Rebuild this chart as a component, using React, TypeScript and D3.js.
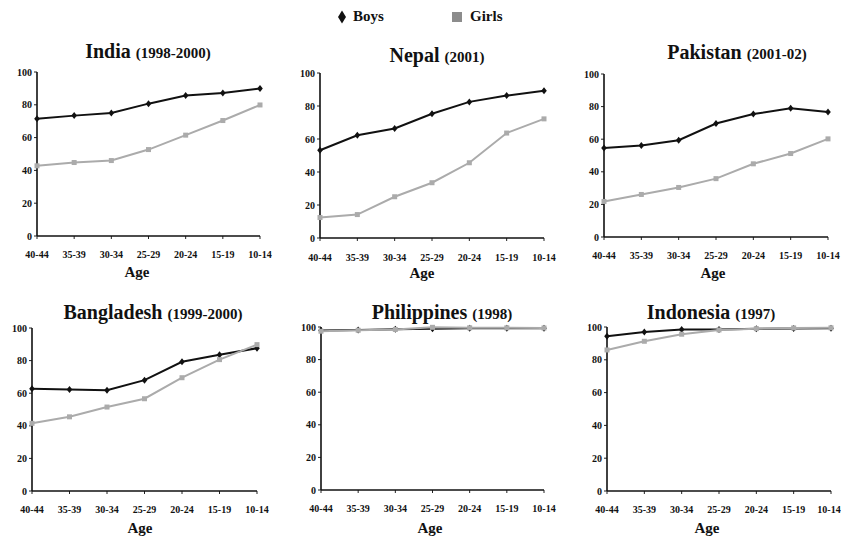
import React from "react";
import * as d3 from "d3";

const ageGroups = ["40-44", "35-39", "30-34", "25-29", "20-24", "15-19", "10-14"];
const yTicks = [0, 20, 40, 60, 80, 100];

const indiaBoys = [71.5, 73.4, 75, 80.7, 85.6, 87.2, 90];
const indiaGirls = [42.8, 44.8, 46, 52.7, 61.5, 70.4, 79.9];
const nepalBoys = [53.2, 62.3, 66.4, 75.3, 82.5, 86.3, 89.3];
const nepalGirls = [12.4, 14.2, 25, 33.5, 45.6, 63.6, 72.2];
const pakistanBoys = [54.6, 56.1, 59.4, 69.6, 75.4, 79, 76.7];
const pakistanGirls = [21.8, 26.1, 30.4, 35.8, 44.9, 51.2, 60.2];
const bangladeshBoys = [62.8, 62.2, 61.8, 68, 79.3, 83.6, 87.6];
const bangladeshGirls = [41.5, 45.5, 51.5, 56.6, 69.5, 80.6, 89.8];
const philippinesBoys = [97.8, 98.2, 98.6, 98.9, 99.2, 99.3, 99.3];
const philippinesGirls = [97.4, 98, 98.5, 99.8, 99.5, 99.5, 99.4];
const indonesiaBoys = [94.3, 97, 98.4, 98.5, 98.9, 99.1, 99.2];
const indonesiaGirls = [86, 91.3, 95.6, 98.2, 99, 99.4, 99.5];

const FONT = "Liberation Serif";
const BOY_COLOR = "#111";
const GIRL_COLOR = "#ababab";

const txt = (size: number): React.CSSProperties => ({
  fontFamily: FONT,
  fontWeight: "bold",
  fontSize: size,
});

type PanelProps = {
  country: string;
  year: string;
  boys: number[];
  girls: number[];
  x0: number;
  x1: number;
  y0: number;
  y100: number;
  titleX: number;
  titleY: number;
  tickY: number;
  ageX: number;
  ageY: number;
};

const panels: PanelProps[] = [
  { country: "India", year: "(1998-2000)", boys: indiaBoys, girls: indiaGirls, x0: 37, x1: 260, y0: 236, y100: 72, titleX: 148, titleY: 58, tickY: 258, ageX: 137, ageY: 277 },
  { country: "Nepal", year: "(2001)", boys: nepalBoys, girls: nepalGirls, x0: 320, x1: 544, y0: 238, y100: 73, titleX: 437, titleY: 62, tickY: 261, ageX: 422, ageY: 278 },
  { country: "Pakistan", year: "(2001-02)", boys: pakistanBoys, girls: pakistanGirls, x0: 604, x1: 828, y0: 237, y100: 74, titleX: 737, titleY: 59, tickY: 259, ageX: 713, ageY: 278 },
  { country: "Bangladesh", year: "(1999-2000)", boys: bangladeshBoys, girls: bangladeshGirls, x0: 32, x1: 257, y0: 491, y100: 328, titleX: 153, titleY: 319, tickY: 513, ageX: 140, ageY: 533 },
  { country: "Philippines", year: "(1998)", boys: philippinesBoys, girls: philippinesGirls, x0: 321, x1: 544, y0: 490, y100: 327, titleX: 442, titleY: 319, tickY: 512, ageX: 430, ageY: 533 },
  { country: "Indonesia", year: "(1997)", boys: indonesiaBoys, girls: indonesiaGirls, x0: 607, x1: 831, y0: 491, y100: 327, titleX: 711, titleY: 319, tickY: 513, ageX: 707, ageY: 533 },
];

function Panel(p: PanelProps) {
  const x = d3.scalePoint<string>().domain(ageGroups).range([p.x0, p.x1]).padding(0);
  const y = d3.scaleLinear().domain([0, 100]).range([p.y0, p.y100]);
  const line = d3
    .line<number>()
    .x((_, i) => x(ageGroups[i]) as number)
    .y((d) => y(d));
  const diamond = (cx: number, cy: number) =>
    `M${cx},${cy - 3.5}L${cx + 2.8},${cy}L${cx},${cy + 3.5}L${cx - 2.8},${cy}Z`;
  return (
    <g>
      <text x={p.titleX} y={p.titleY} textAnchor="middle" fill="#111" style={txt(20)}>
        <tspan style={txt(20)}>{p.country} </tspan>
        <tspan style={txt(15)}>{p.year}</tspan>
      </text>
      {yTicks.map((t) => (
        <g key={t}>
          <line x1={p.x0 - 3} x2={p.x0} y1={y(t)} y2={y(t)} stroke="#222" strokeWidth={1} />
          <text x={p.x0 - 5} y={y(t) + 3.5} textAnchor="end" fill="#111" style={txt(10)}>
            {t}
          </text>
        </g>
      ))}
      {ageGroups.map((a, i) => (
        <g key={a}>
          <line x1={x(a)} x2={x(a)} y1={p.y0} y2={p.y0 + 3} stroke="#222" strokeWidth={1} />
          <text
            x={i === ageGroups.length - 1 ? Math.min(x(a) as number, 829) : x(a)}
            y={p.tickY}
            textAnchor="middle"
            fill="#111"
            style={txt(10)}
          >
            {a}
          </text>
        </g>
      ))}
      <line x1={p.x0} x2={p.x0} y1={p.y100} y2={p.y0} stroke="#111" strokeWidth={1.6} />
      <line x1={p.x0} x2={p.x1} y1={p.y0} y2={p.y0} stroke="#111" strokeWidth={1.6} />
      <path d={line(p.boys) || ""} fill="none" stroke={BOY_COLOR} strokeWidth={2} />
      {p.boys.map((v, i) => (
        <path key={i} d={diamond(x(ageGroups[i]) as number, y(v))} fill={BOY_COLOR} />
      ))}
      <path d={line(p.girls) || ""} fill="none" stroke={GIRL_COLOR} strokeWidth={2} />
      {p.girls.map((v, i) => (
        <rect key={i} x={(x(ageGroups[i]) as number) - 2.5} y={y(v) - 2.5} width={5} height={5} fill={GIRL_COLOR} />
      ))}
      <text x={p.ageX} y={p.ageY} textAnchor="middle" fill="#111" style={txt(15)}>
        Age
      </text>
    </g>
  );
}

export default function App() {
  return (
    <svg width={841} height={539} style={{ position: "absolute", left: 0, top: 0, background: "#fff" }}>
      <rect width={841} height={539} fill="#fff" />
      <path d="M342,10.5L346,17L342,23.5L338,17Z" fill="#111" />
      <text x={353} y={21} fill="#111" style={txt(15)}>Boys</text>
      <rect x={452} y={12} width={10} height={10} fill="#8c8c8c" />
      <text x={470} y={21} fill="#111" style={txt(15)}>Girls</text>
      {panels.map((p) => (
        <Panel key={p.country} {...p} />
      ))}
    </svg>
  );
}
